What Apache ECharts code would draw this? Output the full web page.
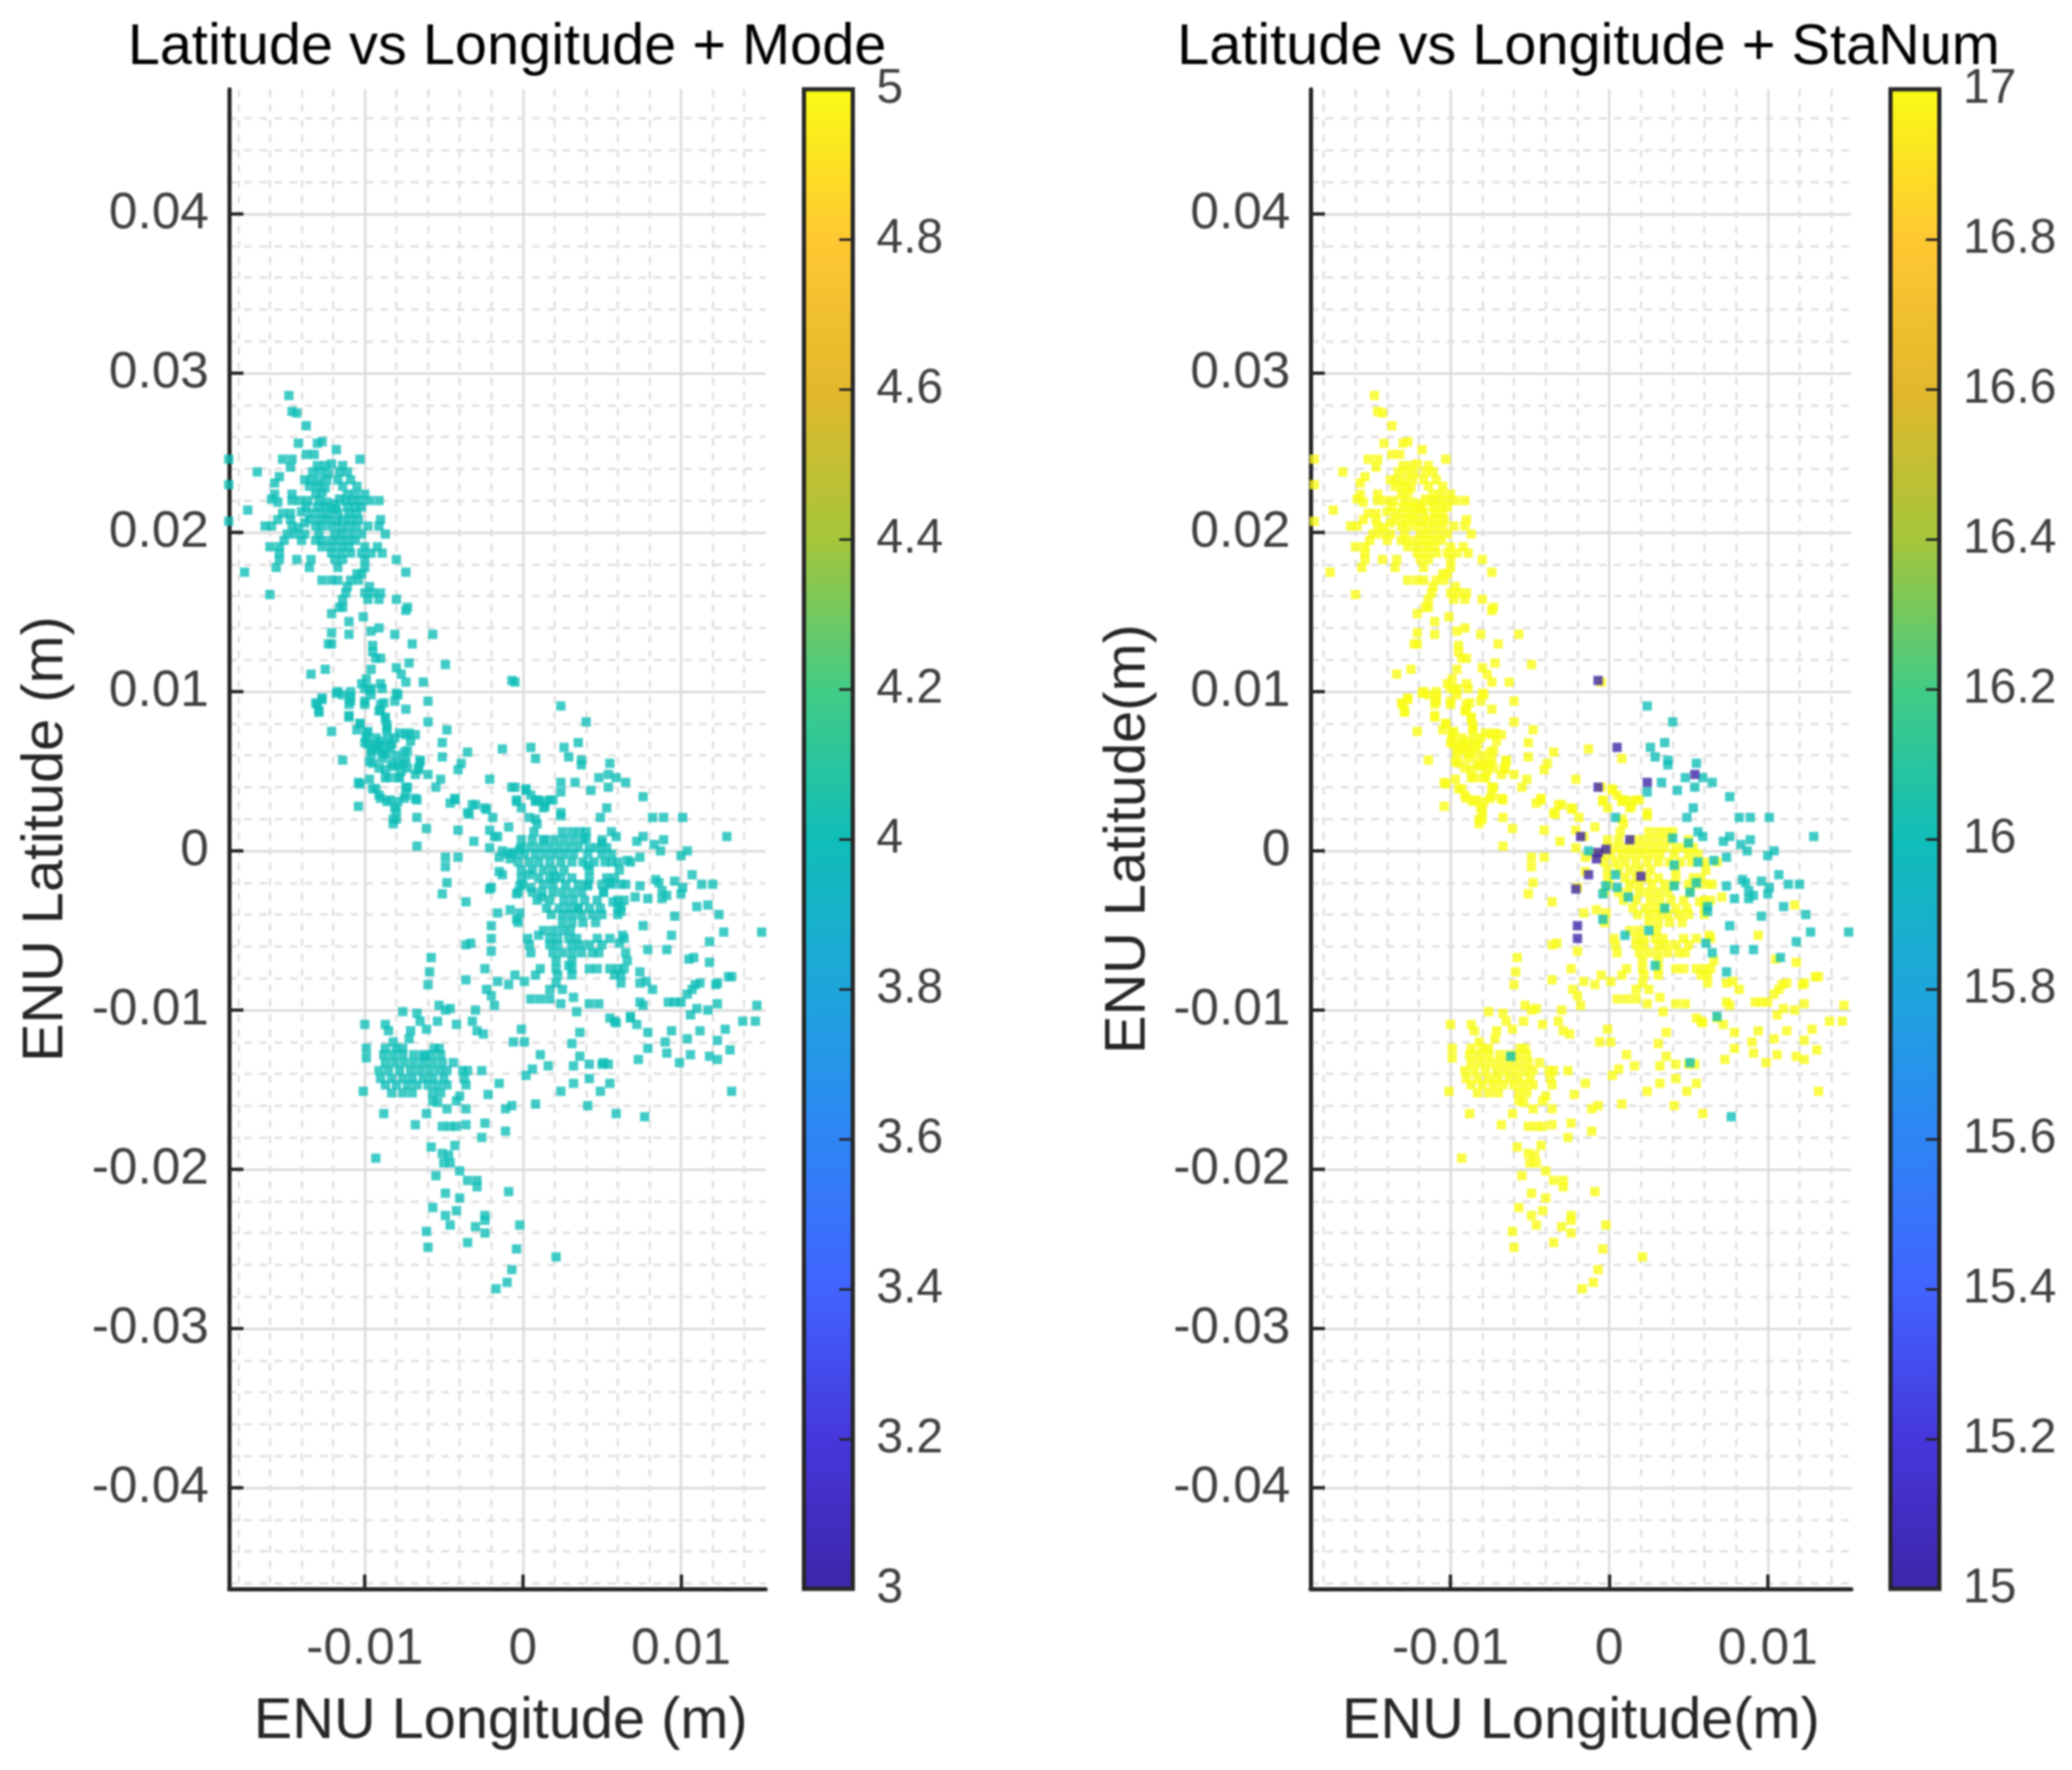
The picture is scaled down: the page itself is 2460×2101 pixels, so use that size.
<!DOCTYPE html>
<html><head><meta charset="utf-8">
<style>html,body{margin:0;padding:0;background:#fff}#c{width:2460px;height:2101px}#c canvas{filter:blur(0.8px)}</style>
<script src="https://cdn.jsdelivr.net/npm/echarts@6/dist/echarts.min.js"></script>
</head><body><div id="c"></div>
<script>
// All positions below are flat lists: lon, lat, lon, lat ... in millimetres (ENU).
const nwOutliers=[-14.8,28.6,-14.6,27.6,-14.3,27.5,-13.7,26.7,-14.2,25.6,-12.7,25.7,-13.0,25.6,-11.8,25.2,-18.6,24.6,-18.6,23.0,-18.6,20.7,-10.3,24.6,-16.8,23.8,-17.4,21.4,-17.6,17.5,-16.0,16.1,-13.7,24.9,-13.2,24.9,-15.2,24.6,-14.6,24.6,-14.7,24.1,-15.4,23.5,-15.7,23.1,-15.7,22.4,-15.9,22.1,-15.5,21.9];
const nwCore=[-13.0,24.2,-12.5,24.2,-12.1,24.3,-11.4,24.2,-13.3,23.8,-12.8,23.8,-12.3,23.7,-11.6,23.8,-11.1,23.8,-13.8,23.3,-13.4,23.3,-12.9,23.2,-12.4,23.3,-11.7,23.3,-10.9,23.3,-13.5,22.9,-13.0,22.9,-12.5,22.8,-11.4,22.9,-10.5,22.9,-14.6,22.4,-13.1,22.4,-12.7,22.5,-11.1,22.4,-10.6,22.4,-10.0,22.4,-14.6,22.0,-14.1,22.0,-13.6,22.0,-12.9,22.0,-12.4,21.9,-11.2,22.0,-10.8,22.0,-10.3,22.0,-9.7,22.0,-9.1,22.0,-13.0,21.6,-12.5,21.6,-12.1,21.5,-11.1,21.6,-10.6,21.6,-10.2,21.6,-15.2,21.2,-14.7,21.2,-13.4,21.2,-12.8,21.2,-12.3,21.1,-11.7,21.2,-11.0,21.2,-10.5,21.2,-15.5,20.8,-14.7,20.8,-13.5,20.8,-12.9,20.8,-12.4,20.8,-11.8,20.7,-11.4,20.8,-10.9,20.8,-10.4,20.8,-9.0,20.8,-16.3,20.4,-15.9,20.4,-14.6,20.4,-13.1,20.4,-12.7,20.4,-12.1,20.4,-11.5,20.3,-11.0,20.4,-10.5,20.4,-9.8,20.4,-9.1,20.4,-14.9,19.9,-14.4,19.9,-13.8,19.9,-12.9,19.9,-11.9,19.9,-11.4,19.9,-10.8,19.9,-10.2,19.9,-8.7,19.9,-13.1,19.5,-12.7,19.5,-12.1,19.5,-11.6,19.5,-11.1,19.5,-10.6,19.5,-16.0,19.1,-15.4,19.1,-12.7,19.1,-12.1,19.1,-11.5,19.1,-11.0,19.1,-10.0,19.1,-9.2,19.1,-15.4,18.7,-12.1,18.7,-11.5,18.7,-10.9,18.7,-10.2,18.7,-9.6,18.7,-8.9,18.7,-15.4,18.3,-14.3,18.3,-13.4,18.3,-11.9,18.3,-11.4,18.3,-10.0,18.3,-15.6,17.8,-13.5,17.8,-11.7,17.8,-10.0,17.8,-8.0,18.3,-7.4,17.5,-10.5,17.4,-10.2,17.4,-12.7,17.0,-12.1,17.0,-11.7,17.0,-10.9,17.0,-10.4,17.0,-11.1,16.6,-9.7,16.6,-11.2,16.2,-10.0,16.2,-9.5,16.2,-9.0,16.2,-11.4,15.8,-9.8,15.8,-9.1,15.8,-8.0,15.8,-11.4,15.3,-11.6,15.3,-7.3,15.3,-7.4,15.1,-12.1,14.9,-11.0,14.4,-10.1,14.7,-12.1,13.7,-12.1,13.0,-12.3,13.0,-11.0,13.6,-9.6,13.8,-9.1,14.0,-8.1,13.6,-5.7,13.6,-7.0,13.0,-9.5,12.9,-9.5,12.5,-9.3,12.1,-9.0,12.1,-7.2,11.8,-4.9,11.7,-13.4,11.1,-12.5,11.4,-9.6,11.4,-8.0,11.5,-7.7,11.1,-7.4,10.6,-6.3,10.6,-0.5,10.6,-9.9,10.8,-10.2,10.5,-11.9,21.8,-11.6,22.1,-11.8,21.5,-13.7,21.6,-14.0,21.3,-13.8,20.6,-14.2,20.3,-14.0,19.5,-15.1,19.5];
const midBand=[-10.0,10.2,-9.6,10.2,-8.9,10.2,-11.4,9.8,-11.8,9.9,-10.9,9.7,-9.6,9.8,-7.9,9.8,-6.0,9.4,-12.7,9.5,-13.0,9.2,-12.9,8.7,-11.0,9.2,-10.0,9.2,-9.0,9.2,-8.1,9.4,-7.4,8.9,-9.1,8.8,-11.0,8.4,-8.7,8.4,-6.0,8.1,-10.3,8.0,-8.6,7.9,-10.5,7.6,-9.8,7.5,-4.8,7.6,-12.1,7.5,-8.6,7.5,-7.4,7.3,-6.8,7.3,-9.3,7.1,-8.1,7.1,-7.1,6.9,-5.1,6.8,-9.8,6.7,-8.9,6.6,-9.1,6.3,-7.3,6.3,-9.6,6.1,-8.6,6.1,-5.1,5.9,-3.5,6.2,-11.4,5.7,-7.4,5.7,-6.5,5.6,-9.5,5.5,-7.9,5.4,-3.9,5.5,-9.1,5.2,-7.3,5.2,-6.6,5.2,-4.1,5.1,-8.5,4.6,-7.9,4.6,-6.8,4.8,-6.0,4.8,-5.2,4.5,-9.7,4.5,-10.3,4.2,-9.3,3.9,-7.3,4.0,-5.5,4.0,-9.1,3.5,-7.4,3.5,-6.7,3.2,-8.6,3.1,-7.9,3.1,-10.4,2.8,-8.0,2.5,-8.0,2.0,-8.2,1.7,-6.7,2.1,-6.1,1.4,-4.3,3.2,-4.6,3.0,-3.0,2.9,-3.4,2.3,-2.3,2.6,-1.9,2.1,-6.7,0.3,-9.0,6.9,-8.3,6.7,-9.4,6.5,-8.0,6.0,-8.9,5.8,-7.7,5.0,-8.7,5.1,-8.3,5.5,-8.5,7.0,-9.9,7.1,-11.7,10.0,-10.9,10.0,-10.9,9.4,-13.1,9.3,-12.7,9.6,-12.9,8.8,-9.7,10.1,-9.0,10.5,-8.0,9.9,-10.0,9.4,-8.8,9.3,-9.0,8.8,-11.0,8.5,-8.7,8.3,-10.3,8.0,-8.6,7.7,-9.9,7.4,-7.2,7.4,-7.8,7.4,-10.0,6.8,-9.2,6.7,-8.4,6.5,-9.6,6.3,-8.8,6.1,-7.5,6.2,-6.5,5.7,-9.7,5.6,-8.2,5.3,-7.6,5.5,-6.6,5.1,-8.7,4.6,-7.8,4.6,-10.4,4.3,-9.5,3.9,-7.4,4.0,-9.0,3.3,-8.4,3.2,-7.5,3.3,-6.8,3.3,-8.1,2.7,-8.2,2.0];
const centreNorth=[-2.1,4.5,-1.3,6.4,0.8,5.8,0.2,3.9,-0.4,3.1,-0.1,2.7,0.8,3.1,1.4,2.8,1.7,3.2,2.4,2.2,0.5,3.5,1.0,3.2,-0.5,4.0,0.2,3.8,-0.4,3.2,0.8,3.2,1.4,3.1,1.9,3.2,1.3,2.7,2.4,2.4,0.8,2.0,0.9,1.7,-4.3,3.3,-3.2,2.9,-3.5,2.4,-2.4,2.7,-4.1,1.3,-3.1,0.6,-0.9,1.5,-2.1,1.3,-1.6,0.9,-2.1,0.2,-1.5,-0.4,-1.0,-0.2];
const centreCore=[0.7,1.2,2.5,1.2,3.1,1.2,3.6,1.2,4.0,1.2,-0.1,0.7,0.6,0.7,1.4,0.7,2.0,0.7,2.6,0.7,3.2,0.7,3.8,0.7,5.0,0.7,-0.1,0.2,0.5,0.2,1.1,0.2,1.7,0.2,2.3,0.2,2.9,0.2,3.5,0.2,4.2,0.2,4.7,0.2,5.3,0.2,-0.5,-0.2,0.1,-0.2,0.8,-0.2,1.4,-0.2,2.0,-0.2,2.6,-0.2,3.2,-0.2,4.1,-0.2,5.0,-0.2,5.6,-0.2,-0.3,-0.7,0.4,-0.7,1.0,-0.7,1.7,-0.7,2.4,-0.7,3.1,-0.7,3.8,-0.7,4.5,-0.7,5.2,-0.7,6.0,-0.7,6.8,-0.7,-0.1,-1.2,0.6,-1.2,1.3,-1.2,1.9,-1.2,2.6,-1.2,4.2,-1.2,6.1,-1.2,-0.1,-1.7,1.0,-1.7,1.7,-1.7,2.4,-1.7,3.1,-1.7,4.2,-1.7,5.3,-1.7,5.8,-1.7,0,-2.1,1.3,-2.1,1.9,-2.1,2.7,-2.1,3.5,-2.1,4.1,-2.1,5.0,-2.1,5.6,-2.1,6.5,-2.1,-0.3,-2.6,0.6,-2.6,1.2,-2.6,1.9,-2.6,2.5,-2.6,3.1,-2.6,3.7,-2.6,5.1,-2.6,0.9,-3.1,1.7,-3.1,2.6,-3.1,3.2,-3.1,3.9,-3.1,4.7,-3.1,6.0,-3.1,6.4,-3.1,1.5,-3.6,2.3,-3.6,2.9,-3.6,3.5,-3.6,4.2,-3.6,4.9,-3.6,6.0,-3.6,1.8,-4.0,2.5,-4.0,3.1,-4.0,3.7,-4.0,4.4,-4.0,5.0,-4.0,6.0,-4.0,2.5,-4.5,3.1,-4.5,3.8,-4.5,4.6,-4.5,1.3,-5.0,1.9,-5.0,3.0,-5.0,0.3,-5.5,1.7,-5.5,2.2,-5.5,2.9,-5.5,3.4,-5.5,4.7,-5.5,5.5,-5.5,6.4,-5.5,0.4,-5.9,1.7,-5.9,2.2,-5.9,3.1,-5.9,3.6,-5.9,4.2,-5.9,5.0,-5.9,0.5,-6.4,1.9,-6.4,2.5,-6.4,3.1,-6.4,3.7,-6.4,4.4,-6.4,4.8,-6.4,2.1,-6.9,3.1,-6.9,6.6,-6.9,1.1,-7.4,2.1,-7.4,3.1,-7.4,4.2,-7.4,4.7,-7.4,5.5,-7.4,6.0,-7.4,6.4,-7.4,0.8,-7.8,2.2,-7.8,3.1,-7.8,5.8,-7.8,6.2,-7.8,2.1,-8.3,6.2,-8.3,7.4,-8.3,1.7,-8.7,2.5,-8.7,0.5,-9.3,1.1,-9.3,1.7,-9.3,4.2,-9.6,4.8,-9.6,3.2,-9.2,2.4,-9.6,3.4,-10.1];
const centreWest=[-5.8,-6.7,-5.9,-7.6,-6.0,-8.4,-4.9,-0.4,-4.1,-0.4,-4.9,-1.0,-4.8,-2.0,-5.1,-2.7,-3.6,-3.2,-2.0,-2.3,-1.5,-1.3,-1.6,-3.9,-0.8,-3.7,-0.2,-3.9,-0.3,-4.5,-3.3,-5.8,-3.6,-5.9,-2.0,-6.3,-2.4,-7.4,-3.6,-8.1,-1.6,-8.2,-0.5,-7.8,-0.9,-8.4,0.1,-8.2,-2.3,-8.7,-2.0,-9.1,-1.8,-9.7];
const eastScatter=[11.7,-3.4,9.4,-5.3,10.5,-6.8,11.8,-7.0,13.0,-7.9,12.2,-8.4,10.9,-8.4,10.4,-9.0,6.3,-5.3,6.2,-2.1,7.1,-2.9,5.7,-3.2,12.3,-8.3,11.2,-8.3,10.7,-8.7,9.6,-9.5,7.6,-9.7,12.3,-9.6,11.7,-10.0,11.0,-9.9,10.6,-10.3,14.8,-9.7,14.7,-10.7,13.9,-10.7,5.5,-10.5,5.9,-10.8,6.8,-10.5,7.2,-10.9,7.9,-11.4,9.4,-11.3,9.0,-12.0,10.4,-11.8,11.2,-11.3,12.8,-11.2,12.3,-11.9,7.9,-12.4,9.1,-12.7,10.6,-12.8,11.8,-12.9,13.1,-12.5,7.3,-13.1,9.9,-13.3,12.3,-13.1,13.2,-15.1,5.9,-16.5,4.1,-16.0,7.8,-8.2,8.2,-8.7,9.2,-9.5,7.4,-9.5,10.0,-9.5,5.8,-10.7,13.2,-7.9];
const belowCentre=[-0.1,-11.2,-0.6,-12.0,0.1,-12.0,3.6,-11.4,3.1,-12.1,1.1,-12.8,1.6,-13.5,0.6,-13.7,0.2,-14.1,3.6,-12.9,3.2,-13.5,4.2,-13.4,5.4,-13.4,5.0,-13.4,4.2,-14.3,3.2,-14.6,2.4,-15.1,5.5,-14.6,4.9,-15.1,-0.7,-16.0,-1.1,-16.2,0.8,-15.9,-1.5,-14.6,-2.2,-15.3];
const southCluster=[-3.0,-10.0,-3.2,-10.7,-2.9,-11.3,-2.5,-11.5,-5.3,-9.7,-4.9,-10.0,-4.6,-9.9,-6.7,-10.2,-7.6,-10.1,-6.5,-10.7,-4.2,-10.9,-5.4,-10.7,-6.1,-11.2,-7.1,-11.3,-8.7,-10.9,-8.5,-11.3,-10.0,-10.9,-7.2,-11.8,-8.2,-12.0,-9.9,-12.4,-9.9,-13.0,-8.7,-12.4,-8.0,-12.4,-7.6,-12.4,-5.6,-12.4,-5.3,-12.4,-8.8,-12.8,-8.2,-12.8,-7.6,-12.8,-6.9,-12.8,-6.3,-12.8,-5.8,-12.8,-5.2,-12.8,-8.7,-13.3,-8.1,-13.3,-7.5,-13.3,-6.9,-13.3,-6.3,-13.3,-5.7,-13.3,-5.1,-13.3,-4.4,-13.3,-9.1,-13.8,-8.5,-13.8,-7.8,-13.8,-7.1,-13.8,-6.5,-13.8,-5.9,-13.8,-5.3,-13.8,-4.8,-13.8,-3.8,-13.8,-3.5,-13.8,-2.6,-13.8,-9.0,-14.3,-8.3,-14.3,-7.6,-14.3,-7.0,-14.3,-6.3,-14.3,-5.7,-14.3,-5.0,-14.3,-3.7,-14.3,-8.7,-14.7,-8.0,-14.7,-7.3,-14.7,-6.7,-14.7,-6.0,-14.7,-5.4,-14.7,-4.8,-14.7,-3.6,-14.7,-8.3,-15.2,-7.6,-15.2,-7.0,-15.2,-5.7,-15.2,-5.2,-15.2,-5.7,-15.7,-4.2,-15.7,-10.1,-15.1,-4.0,-15.4,-3.6,-16.2,-5.4,-15.8,-4.8,-16.2,-8.8,-16.5,-6.1,-16.5,-6.8,-17.2,-4.6,-17.3,-3.6,-17.2,-2.4,-17.1,-1.1,-17.6,-2.6,-18.0,-4.2,-17.3,-5.1,-17.3];
const southTail=[-5.8,-18.6,-4.3,-18.5,-5.1,-19.0,-4.7,-19.1,-5.0,-19.6,-4.6,-19.6,-9.3,-19.3,-5.5,-20.4,-4.0,-20.1,-3.5,-20.7,-2.9,-20.7,-2.9,-21.1,-0.9,-21.4,-4.9,-21.5,-4.0,-21.8,-5.7,-22.4,-4.2,-22.6,-4.9,-22.9,-4.6,-23.5,-2.4,-22.9,-2.4,-23.2,-3.0,-23.6,-2.4,-24.0,-0.2,-23.5,-6.1,-23.9,-3.5,-24.6,-6.0,-24.9,-0.4,-25.0,2.1,-25.5,-0.7,-26.3,-1.0,-27.1,-1.7,-27.5];
// Points with StaNum 16 and 15 (everything above has StaNum 17).
const sta16Points=[2.4,9.1,4.0,8.1,3.5,6.8,2.6,6.5,2.9,5.9,3.7,5.7,3.7,5.4,5.5,5.5,3.3,4.3,4.8,4.6,5.9,4.6,6.5,4.3,5.4,4.0,4.3,3.8,2.4,3.7,7.6,3.4,5.3,2.7,4.9,2.1,0.4,2.1,8.2,2.1,8.9,2.1,10.1,2.1,5.6,1.2,5.9,0.9,12.9,0.9,7.6,0.9,7.2,0.6,8.9,0.7,8.3,0.4,8.7,0,7.4,-0.4,6.6,-0.6,5.6,-0.7,10.0,-0.3,10.4,0,5.0,0.5,4.0,0.8,8.4,-1.8,8.6,-2.0,9.6,-1.9,10.7,-1.5,11.3,-2.1,12.0,-2.1,7.4,-2.2,10.1,-2.3,8.8,-2.5,9.1,-2.8,10.0,-2.7,7.9,-3.0,8.8,-3.0,6.2,-3.5,6.2,-3.8,11.0,-3.5,12.4,-4.0,9.6,-4.1,7.6,-4.7,12.7,-5.1,15.1,-5.1,11.8,-5.7,7.9,-6.2,9.1,-6.2,6.5,-6.4,10.8,-6.7,7.4,-7.6,2.9,-7.2,6.8,-10.4,-6.2,-12.9,5.1,-13.3,6.1,-5.8,5.5,-2.0,5.1,-2.6,4.1,-2.2,3.5,-3.6,2.5,-5.0,1.0,-5.3,-0.4,-2.7,-0.2,-2.2,0.5,-2.3,1.2,-2.9,4.1,-0.9,-0.4,-4.3,0.4,-1.5,-1.3,0,7.7,-16.7];
const sta15Points=[-0.7,10.7,0.5,6.5,5.4,4.8,2.4,4.3,-0.7,4.0,-1.8,0.9,1.3,0.7,-0.2,0.1,-0.7,-0.1,-0.8,-0.5,-1.3,-1.5,-2.1,-2.4,2.0,-1.6,-2.0,-4.7,-2.0,-5.5];
const sta17Groups=[nwOutliers,nwCore,midBand,centreNorth,centreCore,centreWest,eastScatter,belowCentre,southCluster,southTail];

const modeValue=4;
const titles=['Latitude vs Longitude + Mode','Latitude vs Longitude + StaNum'];
const xNames=['ENU Longitude (m)','ENU Longitude(m)'];
const yNames=['ENU Latitude (m)','ENU Latitude(m)'];
const xMajor=[-0.01,0,0.01];
const yMajor=[-0.04,-0.03,-0.02,-0.01,0,0.01,0.02,0.03,0.04];
const xLimits=[[-0.01858,0.01535],[-0.01883,0.01527]];
const yLimits=[-0.04635,0.04783];
const colorRanges=[[3,5],[15,17]];
const parula=['#3E26A8','#4637DC','#4164FF','#2E85F5','#1EA6DC','#10BEB8','#42CC85','#A5C63A','#E3B82C','#FFC832','#F9FB15'];

function minorTicks(lo,hi){const out=[];for(let k=Math.ceil(lo/0.002);k<=Math.floor(hi/0.002);k++){if(k%5!==0)out.push(+(k*0.002).toFixed(3));}return out;}
function triples(list,v){const out=[];for(let i=0;i<list.length;i+=2)out.push([list[i]/1000,list[i+1]/1000,v]);return out;}
let sta17=[];sta17Groups.forEach(g=>{sta17=sta17.concat(triples(g,17));});
const rightData=sta17.concat(triples(sta16Points,16),triples(sta15Points,15));
const leftData=rightData.map(p=>[p[0],p[1],modeValue]);
const seriesData=[leftData,rightData];

const FONT='"Liberation Sans",Arial,sans-serif';
const TOP=106,H=1780;
const layouts=[
 {gl:272,gw:637,cl:954.5,cw:58,titleX:597,namePad:[0,0,0,8],yNameGap:182},
 {gl:1556,gw:642,cl:2244.5,cw:58,titleX:1881,namePad:[0,0,0,0],yNameGap:181}
];
const option={animation:false,backgroundColor:'#fff',title:[],grid:[],xAxis:[],yAxis:[],visualMap:[],series:[]};
const fmt=v=>String(+(+v).toFixed(3));
const major={show:true,lineStyle:{color:'#dcdcdc',width:3,type:'solid'}};
const minor={show:true,lineStyle:{color:'#e2e2e2',width:3,type:[9,9]}};
layouts.forEach((L,i)=>{
  option.title.push({text:titles[i],left:L.titleX,top:18,textAlign:'center',textStyle:{fontFamily:FONT,fontWeight:'normal',fontSize:68.5,color:'#000'}});
  option.grid.push({left:L.gl,top:TOP,width:L.gw,height:H,show:false,containLabel:false});
  option.grid.push({left:L.cl,top:TOP,width:L.cw,height:H,show:true,backgroundColor:'transparent',borderColor:'#262626',borderWidth:5,z:5});
  const g=i*2, gc=i*2+1;
  const xl=xLimits[i];
  option.xAxis.push({type:'value',gridIndex:g,min:xl[0],max:xl[1],position:'bottom',axisLine:{show:false},axisLabel:{show:false},axisTick:{show:false,customValues:minorTicks(xl[0],xl[1])},splitLine:minor});
  const xIdx=option.xAxis.length;
  option.xAxis.push({type:'value',gridIndex:g,min:xl[0],max:xl[1],position:'bottom',name:xNames[i],nameLocation:'middle',nameGap:124,
    nameTextStyle:{fontFamily:FONT,fontSize:68.5,color:'#262626',padding:L.namePad},
    axisLine:{show:true,onZero:false,lineStyle:{color:'#262626',width:5}},
    axisTick:{show:true,inside:true,length:17,lineStyle:{color:'#262626',width:4},customValues:xMajor},
    axisLabel:{show:true,margin:42,fontFamily:FONT,fontSize:61,color:'#404040',customValues:xMajor,formatter:fmt,showMinLabel:true,showMaxLabel:true},
    splitLine:major});
  option.xAxis.push({type:'value',gridIndex:gc,min:0,max:1,show:false});
  option.yAxis.push({type:'value',gridIndex:g,min:yLimits[0],max:yLimits[1],position:'left',axisLine:{show:false},axisLabel:{show:false},axisTick:{show:false,customValues:minorTicks(yLimits[0],yLimits[1])},splitLine:minor});
  const yIdx=option.yAxis.length;
  option.yAxis.push({type:'value',gridIndex:g,min:yLimits[0],max:yLimits[1],position:'left',name:yNames[i],nameLocation:'middle',nameGap:L.yNameGap,nameRotate:90,
    nameTextStyle:{fontFamily:FONT,fontSize:68.5,color:'#262626'},
    axisLine:{show:true,onZero:false,lineStyle:{color:'#262626',width:5}},
    axisTick:{show:true,inside:true,length:17,lineStyle:{color:'#262626',width:4},customValues:yMajor},
    axisLabel:{show:true,margin:24,padding:[8,0,0,0],fontFamily:FONT,fontSize:61,color:'#404040',customValues:yMajor,formatter:fmt},
    splitLine:major});
  const cr=colorRanges[i];
  option.yAxis.push({type:'value',gridIndex:gc,min:cr[0],max:cr[1],interval:0.2,position:'right',z:6,
    axisLine:{show:false,onZero:false},splitLine:{show:false},
    axisTick:{show:true,inside:true,length:16,lineStyle:{color:'#262626',width:3}},
    axisLabel:{show:true,margin:28,fontFamily:FONT,fontSize:57,color:'#404040',formatter:v=>String(+(+v).toFixed(1))}});
  option.visualMap.push({type:'continuous',seriesIndex:i,dimension:2,min:cr[0],max:cr[1],calculable:false,showLabel:false,hoverLink:false,text:null,
    left:L.cl,top:TOP,itemWidth:L.cw,itemHeight:H,padding:0,orient:'vertical',z:1,inRange:{color:parula}});
  option.series.push({type:'scatter',xAxisIndex:xIdx,yAxisIndex:yIdx,data:seriesData[i],symbol:'rect',symbolSize:11,clip:false,silent:true,z:3,
    large:false,progressive:0,emphasis:{disabled:true}});
});
const chart=echarts.init(document.getElementById('c'),null,{renderer:'canvas',width:2460,height:2101});
chart.setOption(option);
</script>
</body></html>
